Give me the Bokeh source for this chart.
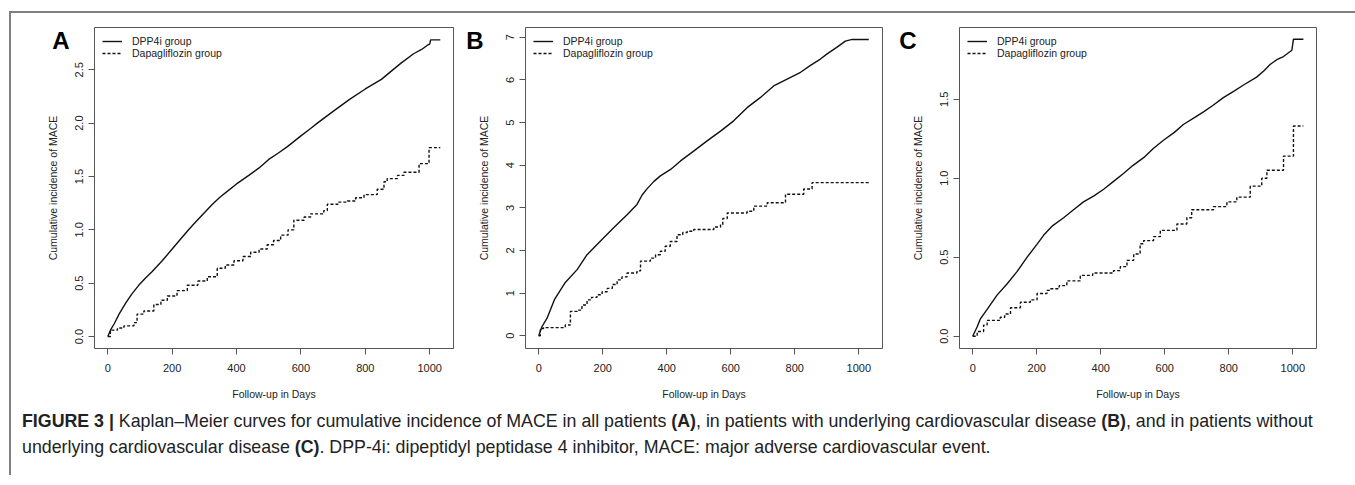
from bokeh.plotting import figure
from bokeh.models import Range1d, FixedTicker, Legend, LegendItem, Div, PrintfTickFormatter
from bokeh.layouts import row, column
from bokeh.embed import file_html
from bokeh.resources import INLINE

# ---------------- data ----------------
x_ticks = [0, 200, 400, 600, 800, 1000]

a_dpp_days = [0, 10, 20, 35, 55, 75, 96, 118, 138, 169, 200, 225, 251, 275, 300, 325, 350, 375, 400, 438,
              470, 500, 530, 558, 600, 630, 651, 700, 750, 800, 850, 878, 910, 950, 975, 993, 1000, 1003, 1033]
a_dpp_vals = [0, 0.07, 0.12, 0.21, 0.31, 0.40, 0.48, 0.55, 0.61, 0.71, 0.82, 0.91, 1.00, 1.08, 1.16, 1.24, 1.31, 1.37, 1.43, 1.51,
              1.58, 1.66, 1.72, 1.78, 1.88, 1.95, 2.00, 2.11, 2.22, 2.32, 2.41, 2.48, 2.56, 2.65, 2.69, 2.73, 2.74, 2.78, 2.78]
a_dapa_days = [0, 8, 30, 50, 81, 91, 112, 143, 165, 185, 215, 247, 280, 309, 340, 365, 392, 420, 444, 470,
               495, 515, 537, 560, 578, 610, 630, 671, 682, 715, 744, 770, 796, 837, 858, 868, 900, 920, 967, 998, 1033]
a_dapa_vals = [0, 0.06, 0.08, 0.10, 0.13, 0.21, 0.24, 0.30, 0.34, 0.38, 0.43, 0.48, 0.52, 0.56, 0.64, 0.67, 0.71, 0.75, 0.79, 0.82,
               0.86, 0.90, 0.95, 1.00, 1.09, 1.12, 1.15, 1.18, 1.24, 1.26, 1.27, 1.30, 1.33, 1.38, 1.45, 1.48, 1.51, 1.54, 1.62, 1.77, 1.77]

b_dpp_days = [0, 10, 26, 50, 83, 120, 151, 193, 234, 276, 307, 323, 339, 360, 380, 412, 443, 484, 526, 568,
              609, 651, 693, 734, 776, 818, 849, 880, 901, 932, 958, 979, 1031]
b_dpp_vals = [0, 0.21, 0.41, 0.86, 1.25, 1.55, 1.90, 2.22, 2.53, 2.84, 3.08, 3.30, 3.45, 3.62, 3.75, 3.90, 4.10, 4.33, 4.57, 4.80,
              5.04, 5.35, 5.59, 5.86, 6.02, 6.18, 6.34, 6.49, 6.61, 6.77, 6.91, 6.95, 6.95]
b_dapa_days = [0, 5, 15, 83, 99, 120, 135, 151, 165, 182, 198, 214, 230, 245, 260, 276, 307, 318, 349, 365,
               380, 395, 411, 432, 450, 464, 484, 547, 568, 575, 589, 651, 672, 714, 771, 828, 854, 1031]
b_dapa_vals = [0, 0.17, 0.19, 0.25, 0.57, 0.60, 0.72, 0.84, 0.90, 0.96, 1.03, 1.11, 1.20, 1.31, 1.38, 1.47, 1.52, 1.75, 1.82, 1.90,
               1.98, 2.10, 2.21, 2.37, 2.42, 2.45, 2.49, 2.55, 2.61, 2.75, 2.88, 2.92, 3.04, 3.12, 3.32, 3.44, 3.59, 3.59]

c_dpp_days = [0, 14, 24, 45, 76, 107, 139, 170, 200, 222, 250, 284, 315, 346, 380, 409, 440, 471, 500, 534,
              565, 596, 630, 658, 690, 721, 750, 783, 815, 846, 887, 910, 929, 950, 971, 997, 1002, 1033]
c_dpp_vals = [0, 0.06, 0.11, 0.17, 0.26, 0.33, 0.41, 0.50, 0.58, 0.64, 0.70, 0.75, 0.80, 0.85, 0.89, 0.93, 0.98, 1.03, 1.08, 1.13,
              1.19, 1.24, 1.29, 1.34, 1.38, 1.42, 1.46, 1.51, 1.55, 1.59, 1.64, 1.68, 1.72, 1.75, 1.77, 1.81, 1.88, 1.88]
c_dapa_days = [0, 14, 34, 45, 86, 100, 118, 149, 180, 201, 232, 242, 270, 294, 336, 375, 440, 461, 482, 503,
               523, 534, 565, 586, 638, 669, 684, 752, 794, 825, 867, 903, 919, 971, 1002, 1033]
c_dapa_vals = [0, 0.03, 0.07, 0.10, 0.12, 0.14, 0.18, 0.215, 0.23, 0.27, 0.29, 0.30, 0.32, 0.35, 0.385, 0.40, 0.415, 0.44, 0.48, 0.52,
               0.585, 0.605, 0.63, 0.67, 0.71, 0.75, 0.80, 0.82, 0.85, 0.88, 0.95, 1.00, 1.05, 1.14, 1.33, 1.33]

y_ticks_a = [0.0, 0.5, 1.0, 1.5, 2.0, 2.5]
y_ticks_b = [0, 1, 2, 3, 4, 5, 6, 7]
y_ticks_c = [0.0, 0.5, 1.0, 1.5]

series_names = ["DPP4i group", "Dapagliflozin group"]
panel_letters = ["A", "B", "C"]
x_title = "Follow-up in Days"
y_title = "Cumulative incidence of MACE"

FONT = "Liberation Sans"
TXT = "#222222"
AX = "#555555"
FIG_H = 390


def panel(dpp_d, dpp_v, dapa_d, dapa_v, yticks, yfmt, yr, width, bl, br):
    p = figure(width=width, height=FIG_H, output_backend="svg", toolbar_location=None,
               x_range=Range1d(-41.3, 1074), y_range=Range1d(*yr),
               min_border_left=bl, min_border_right=br, min_border_top=14, min_border_bottom=FIG_H - 335)
    p.background_fill_color = "white"
    p.border_fill_color = "white"
    p.outline_line_color = AX
    p.outline_line_width = 1
    p.xgrid.visible = False
    p.ygrid.visible = False

    r1 = p.line(dpp_d, dpp_v, line_color="#111111", line_width=1.4)
    r2 = p.step(dapa_d, dapa_v, mode="after", line_color="#111111", line_width=1.4, line_dash="3 2")

    for ax in (p.xaxis[0], p.yaxis[0]):
        ax.axis_line_color = None
        ax.major_tick_line_color = AX
        ax.major_tick_out = 6
        ax.major_tick_in = 0
        ax.minor_tick_line_color = None
        ax.major_label_text_font = FONT
        ax.major_label_text_font_size = "11px"
        ax.major_label_text_color = TXT
        ax.axis_label_text_font = FONT
        ax.axis_label_text_font_size = "10.5px"
        ax.axis_label_text_font_style = "normal"
        ax.axis_label_text_color = TXT

    p.xaxis.ticker = FixedTicker(ticks=x_ticks)
    p.xaxis.axis_label = x_title
    p.xaxis.major_label_standoff = 9
    p.xaxis.axis_label_standoff = 13

    p.yaxis.ticker = FixedTicker(ticks=yticks)
    p.yaxis.formatter = PrintfTickFormatter(format=yfmt)
    p.yaxis.major_label_orientation = "vertical"
    p.yaxis.axis_label = y_title
    p.yaxis.major_label_standoff = 5
    p.yaxis.axis_label_standoff = 14

    legend = Legend(items=[LegendItem(label=series_names[0], renderers=[r1]),
                           LegendItem(label=series_names[1], renderers=[r2])],
                    location="top_left", margin=8, padding=8, spacing=0,
                    label_height=12, glyph_height=12, glyph_width=20, label_standoff=10,
                    label_text_font=FONT, label_text_font_size="10.5px", label_text_color=TXT,
                    border_line_color=None, background_fill_alpha=0)
    p.add_layout(legend)
    return p


pA = panel(a_dpp_days, a_dpp_vals, a_dapa_days, a_dapa_vals, y_ticks_a, "%.1f", (-0.112, 2.896), 447, 83, 5)
pB = panel(b_dpp_days, b_dpp_vals, b_dapa_days, b_dapa_vals, y_ticks_b, "%d", (-0.30, 7.23), 435, 67, 11)
pC = panel(c_dpp_days, c_dpp_vals, c_dapa_days, c_dapa_vals, y_ticks_c, "%.1f", (-0.078, 1.954), 459, 66, 36)

# panel letters are overlaid via absolutely positioned spans (relative to the caption block)
letter_left = [39, 453, 886]
letter_top = 36 - (13 + FIG_H)
letters_html = "".join(
    f'<span style="position:absolute;left:{lx}px;top:{letter_top}px;transform:translate(-50%,-50%);'
    f'font:bold 24px \'Liberation Sans\',Arial,sans-serif;line-height:24px;color:#000;z-index:10">{lt}</span>'
    for lx, lt in zip(letter_left, panel_letters))

caption_html = ('<div style="position:relative">'
                '<b>FIGURE 3 |</b> Kaplan–Meier curves for cumulative incidence of MACE in all patients <b>(A)</b>, '
                'in patients with underlying cardiovascular disease <b>(B)</b>, and in patients without<br>'
                'underlying cardiovascular disease <b>(C)</b>. DPP-4i: dipeptidyl peptidase 4 inhibitor, '
                'MACE: major adverse cardiovascular event.' + letters_html + '</div>')
cap = Div(text=caption_html, width=1341, height=62,
          styles={"font-family": "'Liberation Sans', Arial, sans-serif", "font-size": "17.8px",
                  "line-height": "26px", "padding-left": "6px", "padding-top": "0px",
                  "color": "#222222", "white-space": "nowrap", "box-sizing": "border-box",
                  "overflow": "visible"},
          stylesheets=[":host, :host * { overflow: visible !important; }"])

layout = column(row(pA, pB, pC), cap,
                styles={"border-top": "2px solid #808080", "border-left": "2px solid #808080",
                        "border-right": "2px solid #808080", "margin-left": "9px", "margin-top": "11px",
                        "background": "white"})

open("out.html", "w").write(file_html(layout, INLINE))
